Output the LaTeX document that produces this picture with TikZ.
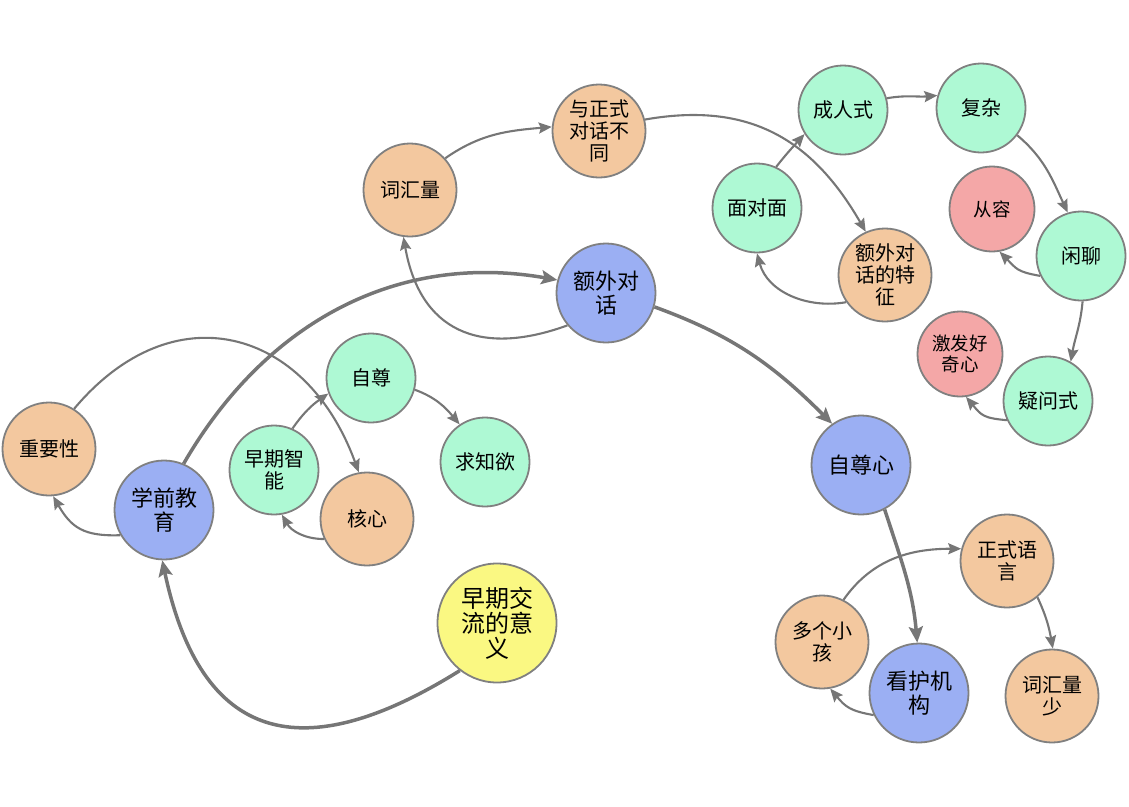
\documentclass[tikz,border=0pt]{standalone}
\usepackage{fontspec}
\setmainfont{Noto Sans CJK SC}
\usetikzlibrary{arrows.meta}
\definecolor{peach}{RGB}{243,200,159}
\definecolor{lavender}{RGB}{155,175,243}
\definecolor{mint}{RGB}{174,249,212}
\definecolor{rose}{RGB}{244,167,167}
\definecolor{lemon}{RGB}{250,248,130}
\definecolor{rim}{RGB}{128,128,128}
\definecolor{wire}{RGB}{118,118,118}
\begin{document}
\begin{tikzpicture}[x=1pt,y=1pt,
    ball/.style={circle,draw=rim,line width=1.8pt,inner sep=0pt,align=center,font=\fontsize{20}{22}\selectfont},
    topic/.style={ball,fill=peach,minimum size=93pt},
    detail/.style={ball,fill=mint,minimum size=89pt},
    hub/.style={ball,fill=lavender,minimum size=99pt,font=\fontsize{22}{23.5}\selectfont},
    aside/.style={ball,fill=rose,minimum size=85pt,font=\fontsize{18.5}{21}\selectfont},
    root/.style={ball,fill=lemon,minimum size=119pt,font=\fontsize{24}{25}\selectfont},
    link/.style={draw=wire,line width=2.1pt,-{Stealth[length=13pt,width=11pt,inset=2pt]}},
    mainlink/.style={draw=wire,line width=3.5pt,-{Stealth[length=16pt,width=14pt,inset=3pt]}}]
        \useasboundingbox (0,0) rectangle (1129,-806);
        % left part
        \node[topic] (zhongyao) at (49,-449) {重要性};
        \node[hub] (xueqian) at (164,-510) {学前教\\育};
        \node[detail] (zaoqi) at (274,-470) {早期智\\能};
        \node[topic] (hexin) at (367,-519) {核心};
        \node[detail] (zizun) at (371,-378) {自尊};
        \node[detail] (qiuzhi) at (485,-462) {求知欲};
        \node[root] (yiyi) at (497,-623) {早期交\\流的意\\义};
        % middle part
        \node[topic] (cihui) at (410,-190) {词汇量};
        \node[topic] (yuzheng) at (599,-131) {与正式\\对话不\\同};
        \node[hub] (ewai) at (606,-293) {额外对\\话};
        \node[detail] (mianduimian) at (757,-208) {面对面};
        \node[topic] (tezheng) at (885,-275) {额外对\\话的特\\征};
        % right part
        \node[detail] (chengren) at (843,-110) {成人式};
        \node[detail] (fuza) at (981,-108) {复杂};
        \node[aside] (congrong) at (992,-209) {从容};
        \node[detail] (xianliao) at (1081,-256) {闲聊};
        \node[aside] (jifa) at (960,-354) {激发好\\奇心};
        \node[detail] (yiwen) at (1048,-401) {疑问式};
        % bottom right
        \node[hub] (zizunxin) at (861,-465) {自尊心};
        \node[topic] (zhengshi) at (1007,-561) {正式语\\言};
        \node[topic] (duoge) at (822,-642) {多个小\\孩};
        \node[hub] (kanhu) at (919,-693) {看护机\\构};
        \node[topic] (shao) at (1052,-696) {词汇量\\少};
        % connectors
        \path[mainlink] (yiyi.232) to[out=212,in=282,looseness=1.5] (xueqian.268);
        \path[link] (xueqian.210) to[out=182,in=300,looseness=1.2] (zhongyao.275);
        \path[link] (zhongyao.58) to[out=50,in=110,looseness=1.35] (hexin.100);
        \path[mainlink] (xueqian.67) to[out=60,in=170] (ewai.165);
        \path[link] (hexin.205) to[out=180,in=300] (zaoqi.280);
        \path[link] (zaoqi.66) to[out=55,in=215] (zizun.200);
        \path[link] (zizun.345) to[out=-20,in=130] (qiuzhi.124);
        \path[link] (ewai.220) to[out=200,in=280,looseness=1.3] (cihui.262);
        \path[link] (cihui.42) to[out=35,in=185] (yuzheng.175);
        \path[link] (yuzheng.14) to[out=10,in=120,looseness=1.1] (tezheng.114);
        \path[link] (tezheng.215) to[out=190,in=285] (mianduimian.270);
        \path[link] (mianduimian.65) to[out=52,in=228] (chengren.212);
        \path[link] (chengren.15) to[out=10,in=185] (fuza.164);
        \path[link] (fuza.323) to[out=-40,in=115] (xianliao.107);
        \path[link] (xianliao.206) to[out=170,in=315,looseness=1.3] (congrong.280);
        \path[link] (xianliao.272) to[out=265,in=80] (yiwen.60);
        \path[link] (yiwen.205) to[out=175,in=310,looseness=1.3] (jifa.278);
        \path[mainlink] (ewai.344) to[out=-20,in=135] (zizunxin.125);
        \path[mainlink] (zizunxin.298) to[out=-72,in=95] (kanhu.92);
        \path[link] (kanhu.206) to[out=170,in=310,looseness=1.2] (duoge.280);
        \path[link] (duoge.63) to[out=55,in=180] (zhengshi.165);
        \path[link] (zhengshi.310) to[out=-65,in=100] (shao.89);
\end{tikzpicture}
\end{document}
